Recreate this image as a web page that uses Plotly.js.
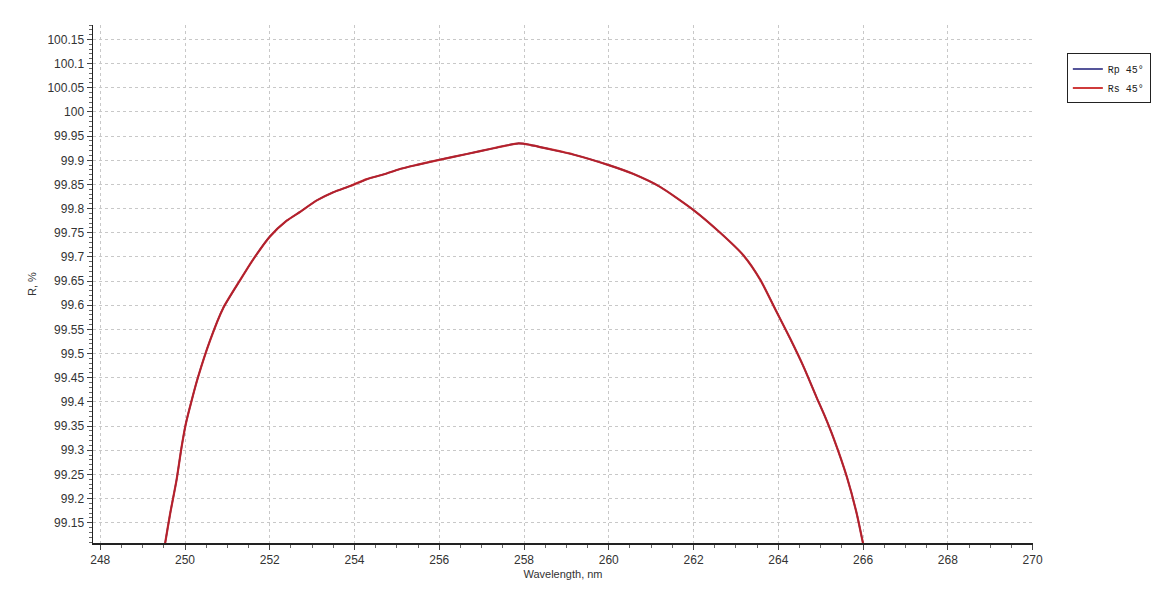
<!DOCTYPE html>
<html>
<head>
<meta charset="utf-8">
<script src="https://cdn.plot.ly/plotly-3.0.1.min.js"></script>
<style>html,body{margin:0;padding:0;background:#fff;}#chart{width:1171px;height:600px;}</style>
</head>
<body>
<div id="chart"></div>
<script>
// Wavelength (nm)
const wavelength = [249.45, 249.53, 249.65, 249.80, 249.92, 250.02, 250.16, 250.31, 250.59, 250.90, 251.30, 251.61, 252.00, 252.40, 252.71, 253.11, 253.50, 253.90, 254.29, 254.70, 255.07, 255.50, 256.00, 256.65, 257.28, 257.87, 258.14, 258.61, 259.16, 260.00, 260.57, 261.21, 262.00, 262.63, 263.18, 263.58, 263.95, 264.28, 264.59, 264.90, 265.10, 265.30, 265.62, 265.85, 266.00, 266.10];
// Rs 45° reflectance (%)
const rsValues = [99.065, 99.107, 99.169, 99.238, 99.307, 99.355, 99.404, 99.452, 99.527, 99.594, 99.652, 99.695, 99.742, 99.775, 99.793, 99.817, 99.834, 99.847, 99.861, 99.871, 99.882, 99.891, 99.901, 99.913, 99.925, 99.935, 99.932, 99.923, 99.912, 99.890, 99.872, 99.845, 99.797, 99.750, 99.703, 99.652, 99.588, 99.531, 99.474, 99.410, 99.370, 99.326, 99.244, 99.169, 99.107, 99.065];
// Rp 45° reflectance (%) - overlaps Rs in the reference
const rpValues = [99.065, 99.107, 99.169, 99.238, 99.307, 99.355, 99.404, 99.452, 99.527, 99.594, 99.652, 99.695, 99.742, 99.775, 99.793, 99.817, 99.834, 99.847, 99.861, 99.871, 99.882, 99.891, 99.901, 99.913, 99.925, 99.935, 99.932, 99.923, 99.912, 99.890, 99.872, 99.845, 99.797, 99.750, 99.703, 99.652, 99.588, 99.531, 99.474, 99.410, 99.370, 99.326, 99.244, 99.169, 99.107, 99.065];
const seriesNames = ['Rp 45°', 'Rs 45°'];

const traces = [
  {x: wavelength, y: rpValues, name: seriesNames[0], type: 'scatter', mode: 'lines',
   line: {color: '#1c1c78', width: 1.6, shape: 'spline', smoothing: 0.6}},
  {x: wavelength, y: rsValues, name: seriesNames[1], type: 'scatter', mode: 'lines',
   line: {color: 'rgba(200,32,32,0.88)', width: 2.2, shape: 'spline', smoothing: 0.6}}
];

const tickFont = {family: 'Liberation Sans, Arial, sans-serif', size: 12, color: '#333'};
const layout = {
  width: 1171, height: 600,
  margin: {l: 93, r: 138, t: 25, b: 57},
  paper_bgcolor: '#fff', plot_bgcolor: '#fff',
  showlegend: true,
  legend: {x: 1.036, y: 0.945, xanchor: 'left', yanchor: 'top',
    bgcolor: '#fff', bordercolor: '#222', borderwidth: 1,
    font: {family: 'Liberation Mono, Courier New, monospace', size: 10, color: '#222'},
    tracegroupgap: 0, itemwidth: 30},
  xaxis: {
    range: [247.829, 270.01], dtick: 2, tick0: 0,
    showline: true, linecolor: '#222', linewidth: 1.5,
    ticks: 'outside', ticklen: 5, tickcolor: '#444',
    showgrid: true, gridcolor: '#c8c8c8', griddash: '3px,3px', gridwidth: 1,
    zeroline: false, tickfont: tickFont,
    minor: {dtick: 0.5, ticks: 'outside', ticklen: 3, tickcolor: '#666', showgrid: false},
    title: {text: 'Wavelength, nm', font: {family: 'Liberation Sans, Arial, sans-serif', size: 11, color: '#333'}, standoff: 4}
  },
  yaxis: {
    range: [99.108, 100.18], dtick: 0.05, tick0: 0,
    showline: true, linecolor: '#222', linewidth: 1.5,
    ticks: 'outside', ticklen: 5, tickcolor: '#444',
    showgrid: true, gridcolor: '#c8c8c8', griddash: '3px,3px', gridwidth: 1,
    zeroline: false, tickfont: tickFont,
    minor: {dtick: 0.01, ticks: 'outside', ticklen: 3, tickcolor: '#666', showgrid: false},
    title: {text: 'R, %', font: {family: 'Liberation Sans, Arial, sans-serif', size: 11, color: '#333'}, standoff: 8}
  }
};

Plotly.newPlot('chart', traces, layout, {staticPlot: true, displayModeBar: false});
</script>
</body>
</html>
